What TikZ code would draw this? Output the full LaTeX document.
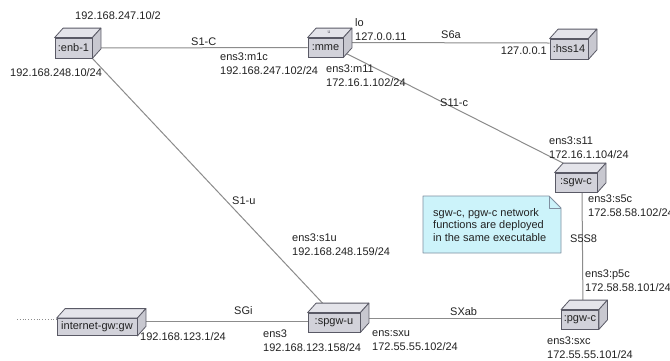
\documentclass[tikz,border=0pt]{standalone}
\usepackage{fontspec}
\setmainfont{Liberation Sans}
\usetikzlibrary{backgrounds,calc}
\definecolor{linec}{HTML}{8C8C8C}
\definecolor{boxfront}{HTML}{D2D2DA}
\definecolor{boxtopc}{HTML}{E4E4EA}
\definecolor{boxsidec}{HTML}{C8C8D0}
\definecolor{boxedge}{HTML}{5A5A66}
\definecolor{notefill}{HTML}{CCF3FA}
\definecolor{noteedge}{HTML}{7F8FA0}
\definecolor{textc}{HTML}{222222}
\tikzset{
  front/.style={draw=boxedge, fill=boxfront, inner sep=0pt, line width=0.8pt,
    font=\fontsize{11}{13}\selectfont, text=textc},
  boxtop/.style={draw=boxedge, fill=boxtopc, line width=0.8pt, line join=round},
  boxside/.style={draw=boxedge, fill=boxsidec, line width=0.8pt, line join=round},
  conn/.style={draw=linec, line width=1pt},
  lbl/.style={anchor=west, inner sep=0pt, align=left,
    font=\fontsize{11}{14}\selectfont, text=textc},
  notetext/.style={anchor=west, inner sep=0pt, align=left,
    font=\fontsize{11}{12.5}\selectfont, text=textc},
}
\newcommand\cubebox[1]{%
  \filldraw[boxtop] (#1.north west) -- ++(8.5pt,9.5pt) -- ([shift={(8.5pt,9.5pt)}]#1.north east) -- (#1.north east) -- cycle;
  \filldraw[boxside] (#1.north east) -- ++(8.5pt,9.5pt) -- ([shift={(8.5pt,9.5pt)}]#1.south east) -- (#1.south east) -- cycle;
}
\begin{document}
\begin{tikzpicture}[x=1pt,y=-1pt]
\useasboundingbox (0,0) rectangle (670,360);

% boxes (front faces)
\node[front, minimum width=37pt, minimum height=20pt] (enb) at (73.5,48) {:enb-1};
\node[front, minimum width=35pt, minimum height=19pt] (mme) at (325.5,47.5) {:mme};
\node[front, minimum width=38pt, minimum height=20pt] (hss) at (569,49) {:hss14};
\node[front, minimum width=42pt, minimum height=19pt] (sgwc) at (576,182.5) {:sgw-c};
\node[front, minimum width=37pt, minimum height=19pt] (pgwc) at (580,319.5) {:pgw-c};
\node[front, minimum width=52pt, minimum height=19pt] (spgwu) at (334,322.5) {:spgw-u};
\node[front, minimum width=80pt, minimum height=17pt] (igw) at (97,327) {internet-gw:gw};
\cubebox{enb}
\cubebox{mme}
\cubebox{hss}
\cubebox{sgwc}
\cubebox{pgwc}
\cubebox{spgwu}
\cubebox{igw}
\node[inner sep=0pt, font=\fontsize{5}{5}\selectfont, text=boxedge] (mmeicon) at (329,32) {u};

% connectors
\coordinate (inet) at (17,319);
\begin{scope}[on background layer]
  \fill[white] (0,0) rectangle (670,360);
  \draw[conn] (enb) -- (mme);
  \draw[conn] ([yshift=5pt]mme.east) -- ([yshift=6pt]hss.west);
  \draw[conn] ([shift={(1pt,-5pt)}]mme.east) -- ([shift={(8.5pt,9.5pt)}]sgwc.north west);
  \draw[conn] ([xshift=6pt]sgwc.south) -- ([xshift=3pt]pgwc.north);
  \draw[conn] ([yshift=4.5pt]spgwu.east) -- ([yshift=1.5pt]pgwc.west);
  \draw[conn] ([yshift=6pt]igw.east) -- ([yshift=1.5pt]spgwu.west);
  \draw[conn] (enb.south east) -- ([shift={(-11pt,9pt)}]spgwu.north);
  \draw[draw=linec, line width=0.8pt, dotted] (inet) -- ([yshift=8pt]igw.west);
\end{scope}

% note
\filldraw[fill=notefill, draw=noteedge, line width=0.8pt, line join=round]
  (423,196) -- (549,196) -- (561,208) -- (561,253) -- (423,253) -- cycle;
\draw[draw=noteedge, line width=0.8pt, line join=round] (549,196) -- (549,208) -- (561,208);
\node[notetext] (notet) at (433,225) {sgw-c, pgw-c network\\functions are deployed\\in the same executable};

% labels
\node[lbl] (l1) at (75,16) {192.168.247.10/2};
\node[lbl] (l2) at (10,73) {192.168.248.10/24};
\node[lbl] (l3) at (191,42) {S1-C};
\node[lbl] (l4) at (220,63.5) {ens3:m1c\\192.168.247.102/24};
\node[lbl] (l5) at (355,29.5) {lo\\127.0.0.11};
\node[lbl] (l6) at (441,35) {S6a};
\node[lbl, anchor=east] (l7) at (547,51) {127.0.0.1};
\node[lbl] (l8) at (326,76) {ens3:m11\\172.16.1.102/24};
\node[lbl] (l9) at (440,103) {S11-c};
\node[lbl] (l10) at (549,148) {ens3:s11\\172.16.1.104/24};
\node[lbl] (l11) at (588,206) {ens3:s5c\\172.58.58.102/24};
\node[lbl] (l12) at (570,239) {S5S8};
\node[lbl] (l13) at (232,201) {S1-u};
\node[lbl] (l14) at (292,245) {ens3:s1u\\192.168.248.159/24};
\node[lbl] (l15) at (585,281) {ens3:p5c\\172.58.58.101/24};
\node[lbl] (l16) at (450,312) {SXab};
\node[lbl] (l17) at (234,311) {SGi};
\node[lbl] (l18) at (140,337) {192.168.123.1/24};
\node[lbl] (l19) at (263,340.5) {ens3\\192.168.123.158/24};
\node[lbl] (l20) at (372,341) {ens:sxu\\172.55.55.102/24};
\node[lbl] (l21) at (547,347.5) {ens3:sxc\\172.55.55.101/24};
\end{tikzpicture}
\end{document}
